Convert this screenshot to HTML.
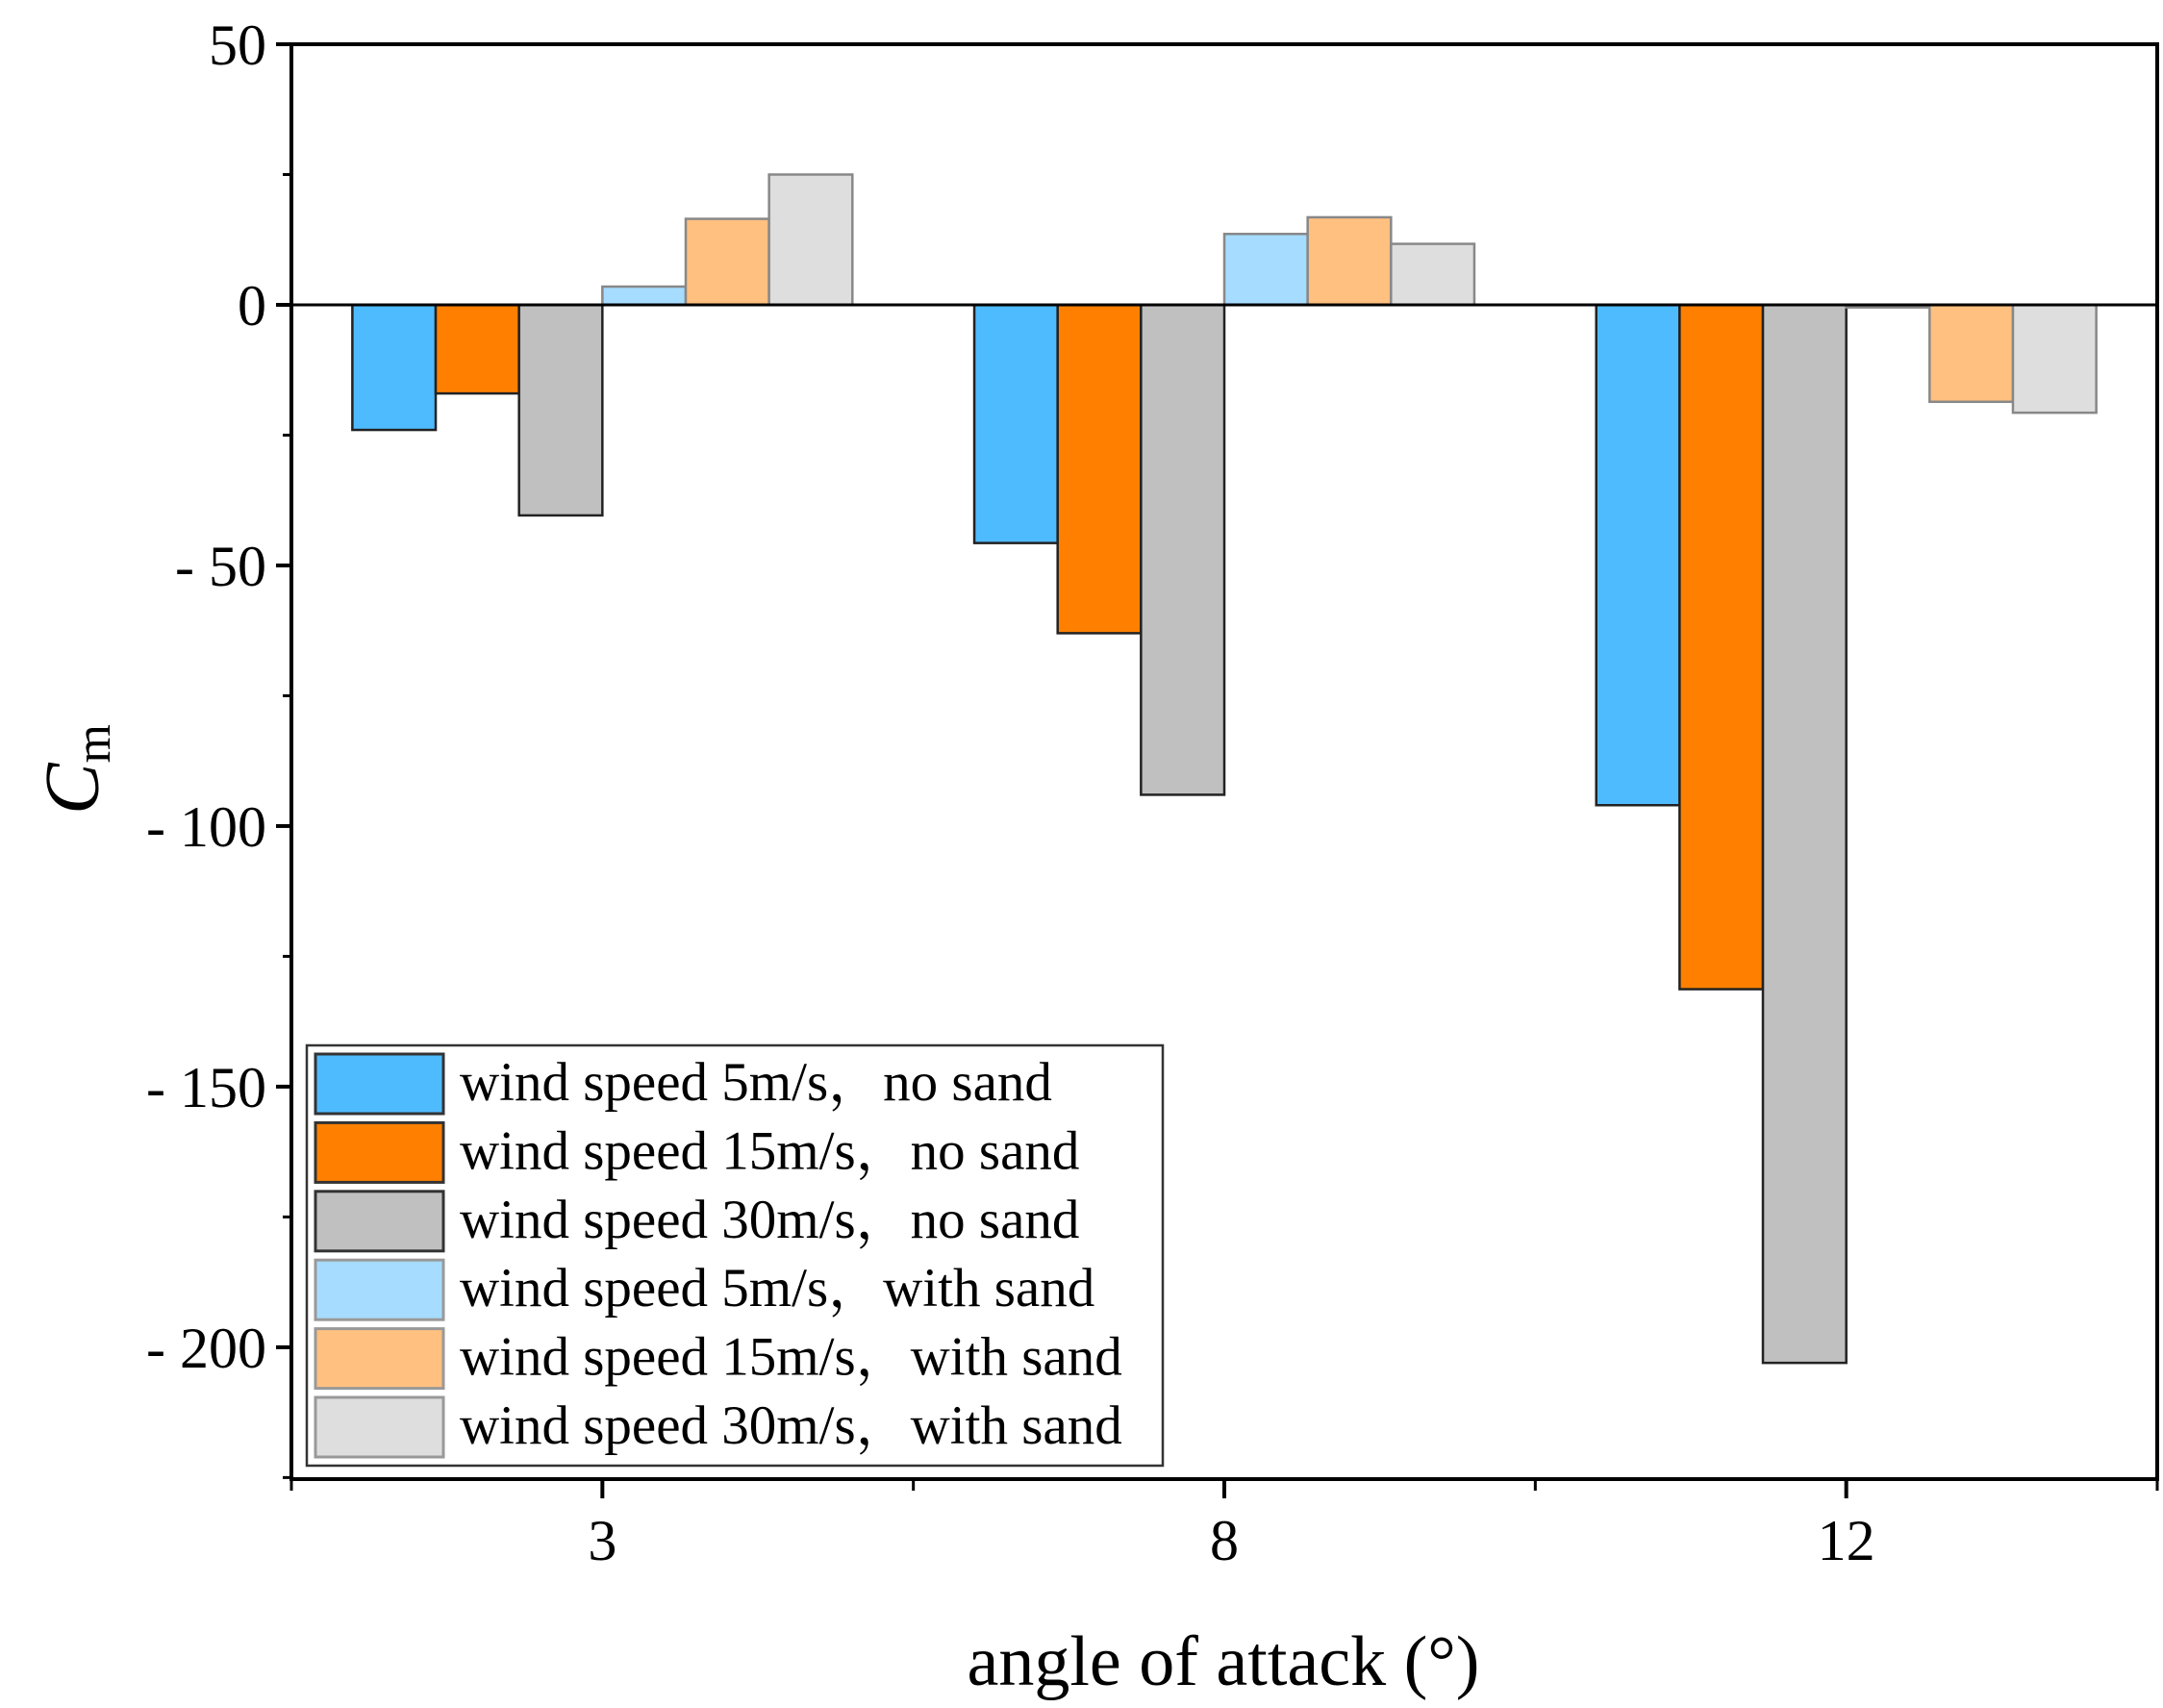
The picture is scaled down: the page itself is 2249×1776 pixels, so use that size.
<!DOCTYPE html>
<html><head><meta charset="utf-8"><style>
html,body{margin:0;padding:0;background:#fff;}
svg{display:block;font-family:"Liberation Serif","Noto Serif CJK SC",serif;}
</style></head><body>
<svg id="chart" width="2249" height="1776" viewBox="0 0 2249 1776" xmlns="http://www.w3.org/2000/svg">
<g id="plot"></g>
</svg>
<script>
const categories = ["3", "8", "12"];
const s5no = [-24, -45.7, -96];
const s15no = [-17, -63, -131.3];
const s30no = [-40.4, -94, -203];
const s5sand = [3.5, 13.6, -0.5];
const s15sand = [16.5, 16.8, -18.6];
const s30sand = [25, 11.7, -20.7];
const seriesNames = ["wind speed 5m/s\uFF0Cno sand","wind speed 15m/s\uFF0Cno sand","wind speed 30m/s\uFF0Cno sand","wind speed 5m/s\uFF0Cwith sand","wind speed 15m/s\uFF0Cwith sand","wind speed 30m/s\uFF0Cwith sand"];
const yTicks = [50, 0, -50, -100, -150, -200];
const yMinor = [25, -25, -75, -125, -175, -225];

const NS = "http://www.w3.org/2000/svg";
const g = document.getElementById('plot');
const L = 303, R = 2243, T = 46, B = 1538;
const yMax = 50, yMin = -225.3;
function yS(v){ return T + (yMax - v) / (yMax - yMin) * (B - T); }
const band = (R - L) / 3;
function xS(i){ return L + band * (i + 0.5); }
const barW = band * 0.134;
function mk(tag, attrs){ const e = document.createElementNS(NS, tag); for (const k in attrs) e.setAttribute(k, attrs[k]); g.appendChild(e); return e; }

const series = [s5no, s15no, s30no, s5sand, s15sand, s30sand];
const fills = ["#4fbbff","#ff8000","#c0c0c0","#a6dcff","#ffc080","#dedede"];
const strokes = ["#222","#222","#222","#888","#888","#888"];

series.forEach((s, si) => {
  s.forEach((v, ci) => {
    const x = xS(ci) + (si - 3) * barW;
    const y0 = yS(0), y1 = yS(v);
    const r = mk('rect', {x: x, y: Math.min(y0, y1), width: barW, height: Math.max(1, Math.abs(y1 - y0)), fill: fills[si], stroke: strokes[si], 'stroke-width': 2.5});
    
    
  });
});

const zl = mk('line', {x1: L, x2: R, y1: yS(0), y2: yS(0), stroke: '#000', 'stroke-width': 3});



const fr = mk('rect', {x: L, y: T, width: R - L, height: B - T, fill: 'none', stroke: '#000', 'stroke-width': 4});



yTicks.forEach(t => {
  const y = yS(t);
  const tk = mk('line', {x1: L - 16, x2: L, y1: y, y2: y, stroke: '#000', 'stroke-width': 4});
  
  
  const tx = mk('text', {x: L - 26, y: y + 21, 'text-anchor': 'end', 'font-size': 60});
  tx.textContent = t < 0 ? '- ' + Math.abs(t) : String(t);
  
  
});
yMinor.forEach(t => {
  const y = yS(t);
  const tk = mk('line', {x1: L - 9, x2: L, y1: y, y2: y, stroke: '#000', 'stroke-width': 3});
  
  
});
categories.forEach((c, i) => {
  const x = xS(i);
  const tk = mk('line', {x1: x, x2: x, y1: B, y2: B + 20, stroke: '#000', 'stroke-width': 4});
  
  
  const tx = mk('text', {x: x, y: B + 84, 'text-anchor': 'middle', 'font-size': 60});
  tx.textContent = c;
  
  
});
for (let i = 0; i <= 3; i++) {
  const x = L + band * i;
  const tk = mk('line', {x1: x, x2: x, y1: B, y2: B + 12, stroke: '#000', 'stroke-width': 3});
  
  
}

const xt = mk('text', {x: 1272, y: 1752, 'text-anchor': 'middle', 'font-size': 74});
xt.textContent = 'angle of attack (\u00B0)';



const yt = mk('text', {x: 0, y: 0, transform: 'translate(102,800) rotate(-90)', 'text-anchor': 'middle', 'font-size': 80, 'font-style': 'italic'});
yt.innerHTML = 'C<tspan font-size="52" font-style="normal" dy="12">m</tspan>';



const lg = mk('rect', {x: 319, y: 1087, width: 890, height: 437, fill: '#fff', stroke: '#333', 'stroke-width': 2.5});


seriesNames.forEach((n, i) => {
  const y = 1096 + i * 71.4;
  const sw = mk('rect', {x: 328, y: y, width: 133, height: 62, fill: fills[i], stroke: i < 3 ? '#333' : '#999', 'stroke-width': 3});
  
  
  const tx = mk('text', {x: 478, y: y + 48, 'font-size': 57});
  tx.textContent = n;
  
  
});
</script>
</body></html>
